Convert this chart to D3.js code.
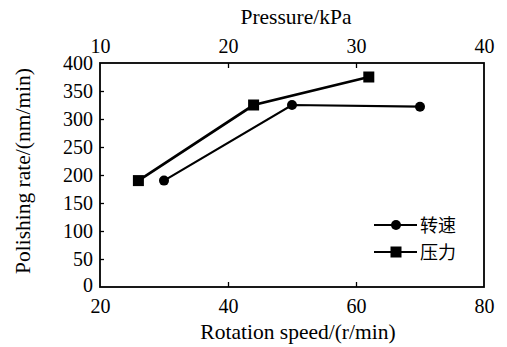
<!DOCTYPE html>
<html>
<head>
<meta charset="utf-8">
<script src="https://cdn.jsdelivr.net/npm/d3@7"></script>
<style>
  body { margin: 0; background: #fff; }
</style>
</head>
<body>
<div id="chart"></div>
<script>
// rotation speed series (circles)
var speedX = [30, 50, 70];
var speedY = [190, 325, 322];
// pressure series (squares)
var pressX = [13, 22, 31];
var pressY = [190, 325, 375];

var speedTicks = [20, 40, 60, 80];
var pressTicks = [10, 20, 30, 40];
var rateTicks = [0, 50, 100, 150, 200, 250, 300, 350, 400];

var width = 507, height = 347;
var plotL = 100, plotR = 484, plotT = 63, plotB = 287;
var serif = "'Liberation Serif', 'Times New Roman', 'DejaVu Serif', serif";

var svg = d3.select("#chart").append("svg")
  .attr("width", width)
  .attr("height", height)
  .attr("font-family", serif);

var x = d3.scaleLinear().domain([20, 80]).range([plotL, plotR]);
var x2 = d3.scaleLinear().domain([10, 40]).range([plotL, plotR]);
var y = d3.scaleLinear().domain([0, 400]).range([plotB, plotT]);

// frame
svg.append("rect")
  .attr("x", plotL).attr("y", plotT)
  .attr("width", plotR - plotL).attr("height", plotB - plotT)
  .attr("fill", "none").attr("stroke", "#000").attr("stroke-width", 1.8);

// bottom axis, ticks inward
var gx = svg.append("g").attr("transform", "translate(0," + plotB + ")")
  .call(d3.axisBottom(x).tickValues(speedTicks).tickSizeInner(-5).tickSizeOuter(0).tickPadding(12));
// top axis, ticks inward
var gx2 = svg.append("g").attr("transform", "translate(0," + plotT + ")")
  .call(d3.axisTop(x2).tickValues(pressTicks).tickSizeInner(-5).tickSizeOuter(0).tickPadding(10));
// left axis, ticks inward
var gy = svg.append("g").attr("transform", "translate(" + plotL + ",0)")
  .call(d3.axisLeft(y).tickValues(rateTicks).tickSizeInner(-4).tickSizeOuter(0).tickPadding(7));

[gx, gx2, gy].forEach(function(g) {
  g.attr("font-family", serif).attr("font-size", 20);
  g.select(".domain").remove();
  g.selectAll(".tick line").attr("stroke", "#000").attr("stroke-width", 1.3);
  g.selectAll(".tick text").attr("fill", "#000");
});
// hide end ticks that sit on the frame
gx.selectAll(".tick line").filter(function(d) { return d === 20 || d === 80; }).remove();
gx2.selectAll(".tick line").filter(function(d) { return d === 10 || d === 40; }).remove();
gy.selectAll(".tick line").filter(function(d) { return d === 0 || d === 400; }).remove();
gy.selectAll(".tick text").filter(function(d) { return d === 0; }).attr("dy", "0.2em");

// axis titles
svg.append("text").attr("x", 296).attr("y", 24)
  .attr("text-anchor", "middle").attr("font-size", 21.5).text("Pressure/kPa");
svg.append("text").attr("x", 298).attr("y", 339)
  .attr("text-anchor", "middle").attr("font-size", 21.5).text("Rotation speed/(r/min)");
svg.append("text")
  .attr("transform", "translate(30,171) rotate(-90)")
  .attr("text-anchor", "middle").attr("font-size", 21.5).text("Polishing rate/(nm/min)");

var line = d3.line();

// speed line
var speedPts = speedX.map(function(v, i) { return [x(v), y(speedY[i])]; });
svg.append("path").attr("d", line(speedPts))
  .attr("fill", "none").attr("stroke", "#000").attr("stroke-width", 2.2);
svg.selectAll("circle.speed").data(speedPts).enter().append("circle")
  .attr("class", "speed")
  .attr("cx", function(d) { return d[0]; })
  .attr("cy", function(d) { return d[1]; })
  .attr("r", 5).attr("fill", "#000");

// pressure line
var pressPts = pressX.map(function(v, i) { return [x2(v), y(pressY[i])]; });
svg.append("path").attr("d", line(pressPts))
  .attr("fill", "none").attr("stroke", "#000").attr("stroke-width", 2.8);
svg.selectAll("rect.press").data(pressPts).enter().append("rect")
  .attr("class", "press")
  .attr("x", function(d) { return d[0] - 5.5; })
  .attr("y", function(d) { return d[1] - 5.5; })
  .attr("width", 11).attr("height", 11).attr("fill", "#000");

// legend
var legend = svg.append("g");
var items = [{name: "转速", shape: "circle", y: 225}, {name: "压力", shape: "square", y: 252}];
items.forEach(function(it) {
  legend.append("line").attr("x1", 374).attr("x2", 417)
    .attr("y1", it.y).attr("y2", it.y).attr("stroke", "#000").attr("stroke-width", 2.2);
  if (it.shape === "circle") {
    legend.append("circle").attr("cx", 396).attr("cy", it.y).attr("r", 5).attr("fill", "#000");
  } else {
    legend.append("rect").attr("x", 390.5).attr("y", it.y - 5.5)
      .attr("width", 11).attr("height", 11).attr("fill", "#000");
  }
  legend.append("text").attr("x", 420).attr("y", it.y + 7)
    .attr("font-family", "'Noto Sans CJK SC', sans-serif")
    .attr("font-size", 18).text(it.name);
});
</script>
</body>
</html>
